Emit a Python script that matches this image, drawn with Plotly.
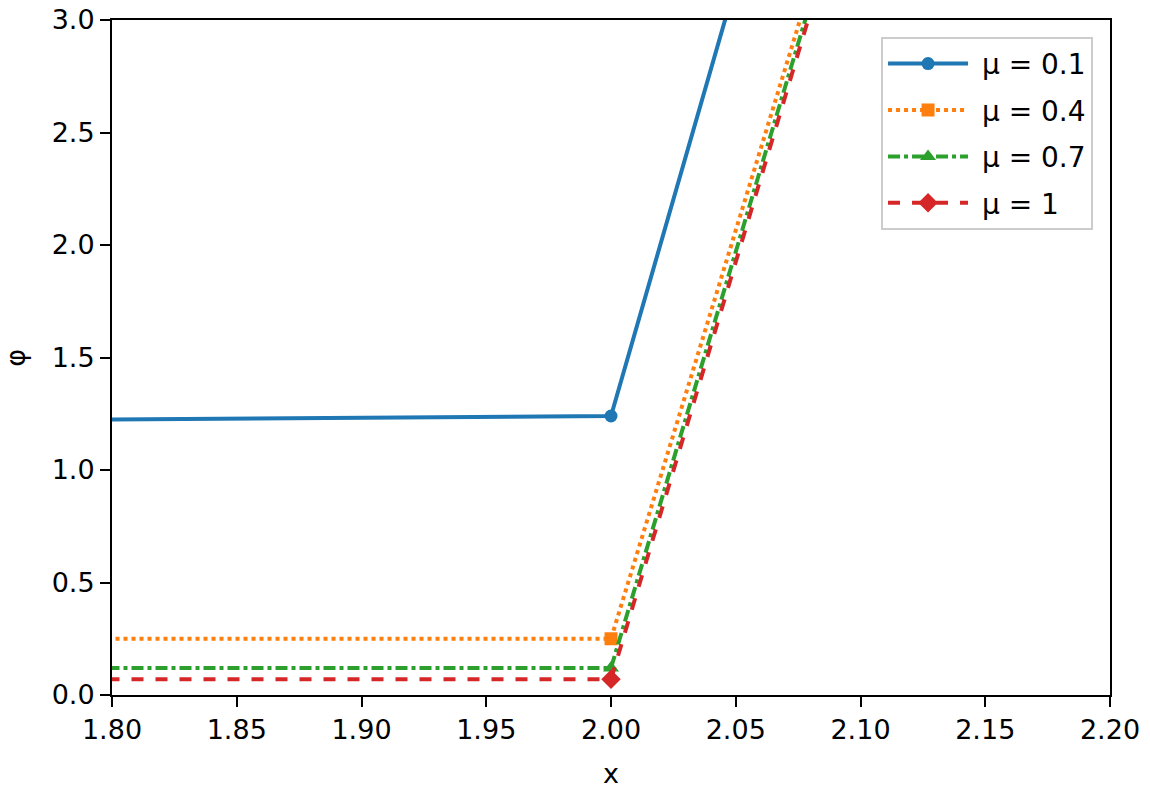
import plotly.graph_objects as go

# values
x_vals = [1.5, 2.0, 2.1]
phi_01 = [1.20, 1.24, 5.09]
phi_04 = [0.25, 0.25, 3.88]
phi_07 = [0.12, 0.12, 3.82]
phi_10 = [0.07, 0.07, 3.78]

names = ["μ = 0.1", "μ = 0.4", "μ = 0.7", "μ = 1"]
colors = ["#1f77b4", "#ff7f0e", "#2ca02c", "#d62728"]
dashes = ["solid", "dot", "dashdot", "dash"]
symbols = ["circle", "square", "triangle-up", "diamond"]
sizes = [13, 13, 14, 15]

x_ticks = [1.80, 1.85, 1.90, 1.95, 2.00, 2.05, 2.10, 2.15, 2.20]
y_ticks = [0.0, 0.5, 1.0, 1.5, 2.0, 2.5, 3.0]

font = dict(family="DejaVu Sans", size=27, color="#000000")

fig = go.Figure()
for i, (name, ys, c, d, s, sz) in enumerate(zip(
        names, [phi_01, phi_04, phi_07, phi_10], colors, dashes, symbols, sizes)):
    fig.add_trace(go.Scatter(
        x=x_vals, y=ys, name=" " + name, mode="lines+markers",
        legendgroup=f"g{i}",
        line=dict(color=c, width=4, dash=d),
        marker=dict(symbol=s, size=sz, color=c),
        cliponaxis=True,
    ))

axis_style = dict(
    showline=True, linecolor="black", linewidth=2, mirror=True,
    ticks="outside", ticklen=10, tickwidth=2, tickcolor="black",
    showgrid=False, zeroline=False, tickfont=font, automargin=False,
    ticklabeloverflow="allow",
)

fig.update_layout(
    width=1150, height=794,
    margin=dict(l=112, r=40, t=20, b=99),
    paper_bgcolor="white", plot_bgcolor="white",
    font=font,
    xaxis=dict(range=[1.8, 2.2], tickvals=x_ticks,
               ticktext=[f"{v:.2f}" for v in x_ticks],
               title=dict(text="x", font=font, standoff=20), **axis_style),
    yaxis=dict(range=[0, 3.0], tickvals=y_ticks,
               ticktext=[f"{v:.1f}" for v in y_ticks], **axis_style),
    legend=dict(x=0.983, y=0.975, xanchor="right", yanchor="top",
                bgcolor="rgba(255,255,255,0.8)", bordercolor="#cccccc",
                borderwidth=2, font=dict(family="DejaVu Sans", size=28, color="#000000"),
                itemwidth=80, traceorder="grouped", tracegroupgap=7),
)

# y axis title placed by hand, it sits further left than plotly allows
fig.add_annotation(text="φ", textangle=-90, xref="paper", yref="paper",
                   x=-0.097, y=0.5, xanchor="center", yanchor="middle",
                   showarrow=False, font=font)

# drop the default body margin so the figure sits at the window corner
fig.write_html("out.html", config={"displayModeBar": False},
               post_script="document.body.style.margin='0';")
